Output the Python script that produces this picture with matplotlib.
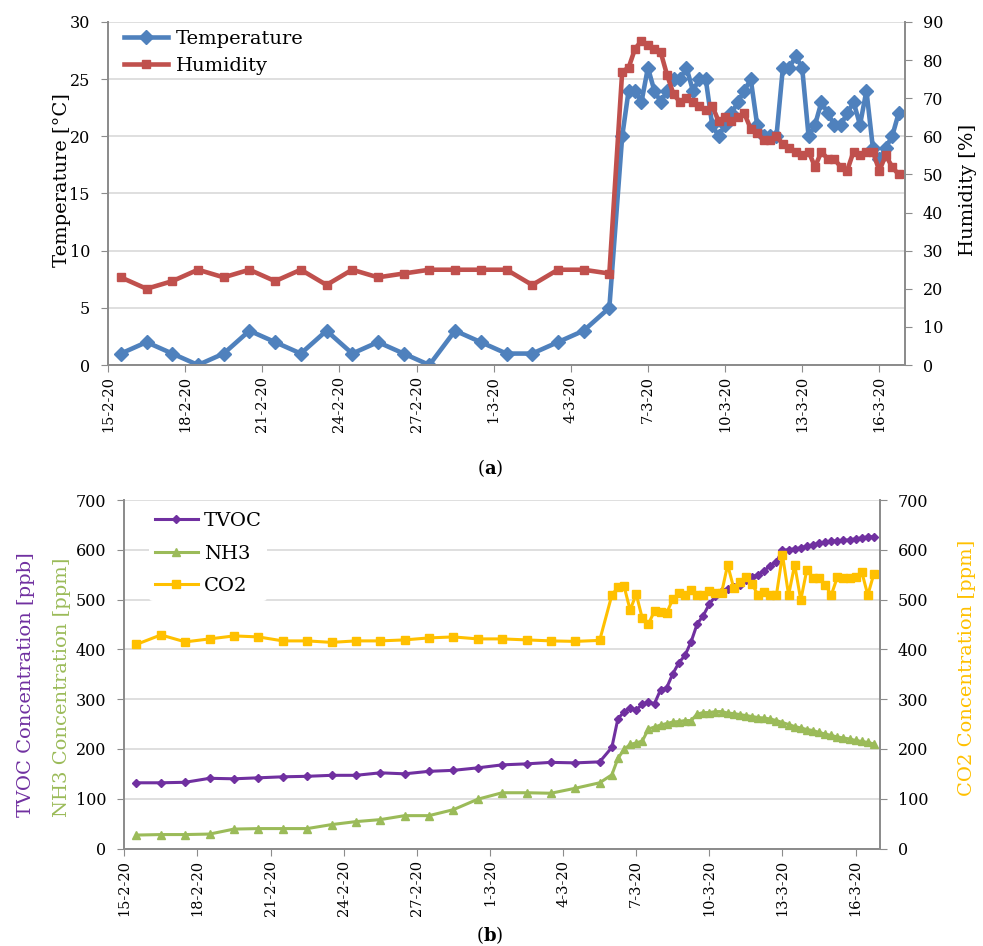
import numpy as np
import pandas as pd
import matplotlib
matplotlib.use("Agg")
import matplotlib.pyplot as plt
import matplotlib.dates as mdates
from matplotlib.ticker import FixedLocator, FuncFormatter, MultipleLocator

plt.rcParams['font.family'] = ['DejaVu Serif']
plt.rcParams['mathtext.fontset'] = 'dejavuserif'

# daily readings (noon), 15-2-20 .. 5-3-20
temp_daily = [1, 2, 1, 0, 1, 3, 2, 1, 3, 1, 2, 1, 0, 3, 2, 1, 1, 2, 3, 5]
hum_daily = [23, 20, 22, 25, 23, 25, 22, 25, 21, 25, 23, 24, 25, 25, 25, 25, 21, 25, 25, 24]
tvoc_daily = [132, 132, 133, 141, 140, 142, 144, 145, 147, 147, 152, 150, 155, 157, 162, 168, 170, 173, 172, 174]
nh3_daily = [27, 28, 28, 29, 39, 40, 40, 40, 48, 54, 58, 66, 66, 78, 99, 112, 112, 111, 121, 132]
co2_daily = [410, 429, 415, 421, 427, 425, 417, 417, 414, 417, 417, 419, 423, 425, 421, 421, 419, 417, 416, 418]

# 6-hourly readings, 6-3-20 00:00 .. 16-3-20 18:00
temp_6h = [20, 24, 24, 23, 26, 24, 23, 24, 25, 25, 26, 24, 25, 25, 21, 20, 21, 22, 23, 24, 25, 21,
           20, 20, 20, 26, 26, 27, 26, 20, 21, 23, 22, 21, 21, 22, 23, 21, 24, 19, 18, 19, 20, 22]
hum_6h = [77, 78, 83, 85, 84, 83, 82, 76, 71, 69, 70, 69, 68, 67, 68, 64, 65, 64, 65, 66, 62, 61,
          59, 59, 60, 58, 57, 56, 55, 56, 52, 56, 54, 54, 52, 51, 56, 55, 56, 56, 51, 55, 52, 50]
tvoc_6h = [203, 261, 274, 283, 278, 290, 294, 291, 319, 323, 351, 373, 388, 415, 451, 468, 491, 507, 517, 522, 525, 530,
           540, 546, 550, 558, 568, 576, 599, 600, 602, 604, 607, 610, 613, 615, 617, 618, 619, 620, 622, 624, 626, 626]
nh3_6h = [148, 181, 199, 209, 212, 216, 240, 244, 248, 251, 254, 255, 257, 257, 270, 273, 273, 275, 275, 272, 271, 269,
          267, 265, 263, 262, 260, 257, 253, 249, 245, 242, 239, 237, 233, 230, 227, 224, 222, 220, 217, 215, 213, 210]
co2_6h = [509, 525, 527, 479, 511, 462, 451, 477, 476, 473, 501, 513, 509, 520, 509, 509, 518, 513, 513, 570, 523, 536,
          546, 531, 509, 516, 509, 509, 590, 509, 570, 499, 560, 544, 544, 530, 509, 545, 544, 544, 545, 556, 509, 552]

times = pd.date_range('2020-02-15 12:00', periods=len(temp_daily), freq='D').append(
    pd.date_range('2020-03-06 00:00', periods=len(temp_6h), freq='6h'))
temperature = temp_daily + temp_6h
humidity = hum_daily + hum_6h
tvoc = tvoc_daily + tvoc_6h
nh3 = nh3_daily + nh3_6h
co2 = co2_daily + co2_6h

tick_dates = mdates.date2num(pd.date_range('2020-02-15', '2020-03-16', freq='3D'))
xmin, xmax = pd.Timestamp('2020-02-15'), pd.Timestamp('2020-03-17')
date_fmt = FuncFormatter(lambda v, p: "%d-%d-20" % (mdates.num2date(v).day, mdates.num2date(v).month))

c_temp, c_hum = '#4F81BD', '#C0504D'
c_tvoc, c_nh3, c_co2 = '#7030A0', '#9BBB59', '#FFC000'
spine_c, grid_c = '#8c8c8c', '#d9d9d9'

W, H = 983, 946
fig = plt.figure(figsize=(W / 100, H / 100), dpi=100)


def style(ax, axr):
    ax.set_xlim(xmin, xmax)
    ax.xaxis.set_major_locator(FixedLocator(tick_dates))
    ax.xaxis.set_major_formatter(date_fmt)
    ax.tick_params(axis='x', rotation=90, labelsize=10.5, length=5, color=spine_c, pad=3)
    ax.tick_params(axis='y', labelsize=11.5, length=5, color=spine_c, pad=8)
    axr.tick_params(axis='y', labelsize=11.5, length=5, color=spine_c, pad=8)
    ax.grid(axis='y', color=grid_c, lw=1.2)
    ax.set_axisbelow(True)
    for a in (ax, axr):
        a.spines['top'].set_visible(False)
        for s in ('left', 'right', 'bottom'):
            a.spines[s].set_color(spine_c)
            a.spines[s].set_linewidth(1.3)


# (a) temperature / humidity
ax1 = fig.add_axes([108 / W, 1 - 365 / H, (905 - 108) / W, (365 - 22) / H])
ax1r = ax1.twinx()
l1, = ax1.plot(times, temperature, color=c_temp, lw=3.3, marker='D', ms=7, label='Temperature')
l2, = ax1r.plot(times, humidity, color=c_hum, lw=3.3, marker='s', ms=6, label='Humidity')
ax1.set_ylim(0, 30)
ax1.yaxis.set_major_locator(MultipleLocator(5))
ax1r.set_ylim(0, 90)
ax1r.yaxis.set_major_locator(MultipleLocator(10))
style(ax1, ax1r)
ax1r.legend([l1, l2], ['Temperature', 'Humidity'], loc='upper left', bbox_to_anchor=(0.01, 1.0),
            fontsize=14, frameon=True, facecolor='white', edgecolor='none', framealpha=1,
            handlelength=2.3, handletextpad=0.4, labelspacing=0.45, borderpad=0.2, borderaxespad=0.2)

fig.text(62 / W, 1 - 180 / H, 'Temperature [°C]', rotation=90, ha='center', va='center', fontsize=14)
fig.text(968 / W, 1 - 190 / H, 'Humidity [%]', rotation=90, ha='center', va='center', fontsize=14)
fig.text(490 / W, 1 - 468 / H, r'($\mathbf{a}$)', ha='center', va='center', fontsize=13)

# (b) TVOC / NH3 / CO2
ax2 = fig.add_axes([124.3 / W, 1 - 848.5 / H, (880 - 124.3) / W, (848.5 - 500) / H])
ax2r = ax2.twinx()
l3, = ax2.plot(times, tvoc, color=c_tvoc, lw=2.2, marker='D', ms=4.5, label='TVOC')
l4, = ax2.plot(times, nh3, color=c_nh3, lw=2.2, marker='^', ms=5.5, label='NH3')
l5, = ax2r.plot(times, co2, color=c_co2, lw=2.2, marker='s', ms=6, label='CO2')
for a in (ax2, ax2r):
    a.set_ylim(0, 700)
    a.yaxis.set_major_locator(MultipleLocator(100))
style(ax2, ax2r)
ax2r.legend([l3, l4, l5], ['TVOC', 'NH3', 'CO2'], loc='upper left', bbox_to_anchor=(0.02, 1.01),
            fontsize=14, frameon=True, facecolor='white', edgecolor='none', framealpha=1,
            handlelength=2.2, handletextpad=0.3, labelspacing=0.75, borderpad=0.3)

fig.text(26 / W, 1 - 685 / H, 'TVOC Concentration [ppb]', rotation=90, ha='center', va='center',
         fontsize=14, color=c_tvoc)
fig.text(62 / W, 1 - 687 / H, 'NH3 Concentration [ppm]', rotation=90, ha='center', va='center',
         fontsize=14, color=c_nh3)
fig.text(967 / W, 1 - 668 / H, 'CO2 Concentration [ppm]', rotation=90, ha='center', va='center',
         fontsize=14, color=c_co2)
fig.text(490 / W, 1 - 935 / H, r'($\mathbf{b}$)', ha='center', va='center', fontsize=13)

fig.savefig('out.png', dpi=100)
